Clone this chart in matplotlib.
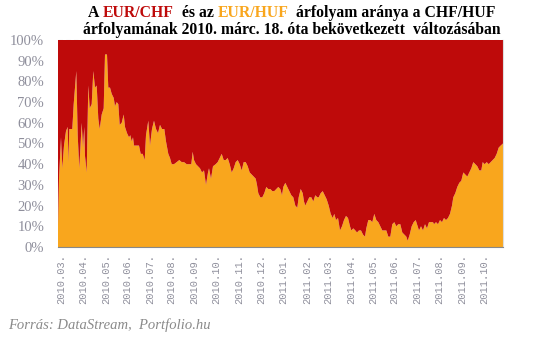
import numpy as np
import matplotlib.pyplot as plt

# trading days since 2010-03-18 and share of EUR/HUF move (%)
days = [0, 1, 3, 4.3, 6, 8, 9.7, 10.3, 11.3, 14.3, 15.7, 18.3, 19.7, 21.3, 23.7, 25, 26.3, 27, 28.7,
        30.3, 31.7, 33.7, 35.3, 37, 38.7, 40.3, 41.7, 43.7, 45.7, 47, 49, 50.3, 52, 53.7, 55.7, 57,
        58.7, 60.3, 61.7, 63.7, 65.7, 67, 69, 71, 72.3, 73.7, 75, 76, 78.7, 81, 82.7, 84.7, 86.7, 88,
        90.3, 92, 94, 96, 98, 100, 102, 104, 106.3, 108, 110.3, 112, 113.7, 116, 118.7, 121.3, 123.7,
        126, 128.7, 131.3, 133.3, 134.7, 136, 138, 140, 142, 144, 146, 148, 150, 151, 153, 155, 157.7,
        159.7, 161.7, 163.7, 165.7, 167.7, 169.7, 171.7, 173.7, 175.7, 177.7, 179.7, 181.7, 183.7,
        185.7, 187.7, 189.7, 191.7, 193.7, 195.7, 197.7, 199, 200.3, 202.3, 204.3, 206.3, 208.3, 210.3,
        212.3, 214.3, 216.3, 218.3, 220.3, 222.3, 224, 225.3, 227.3, 229.3, 231.3, 233.3, 235.3, 237.3,
        239.3, 240.7, 242.7, 244.7, 246, 247.3, 249.3, 251.3, 253.3, 255.3, 257.3, 259.3, 260.7, 262.7,
        264.7, 266.7, 268.7, 270.7, 272.7, 274.7, 276.3, 278, 280, 282, 284, 286, 288, 290, 292, 293.3,
        295.3, 297.3, 299, 301, 303, 305, 307, 308.3, 310.3, 312.3, 314.3, 316.3, 318.3, 320.3, 322.3,
        324.3, 326.3, 328.3, 330.3, 332.3, 334.3, 336.3, 338.3, 340.3, 342.3, 344.3, 346.3, 348.3,
        349.7, 351.7, 353.7, 355.7, 357.7, 359, 361, 363, 365, 367, 369, 371, 373, 375, 376, 378, 380,
        382, 384, 386, 388, 390, 392, 394, 395.3, 397.3, 399.3, 401.3, 403.3, 405.3, 407.3, 409.3,
        411.3, 413.3, 415.3, 417.3, 419.3, 421.3, 423.3, 424.7, 426.7, 428.7, 430.7, 432.7, 434.7,
        436.7, 438.7, 440.7, 442.7, 445]
eurhuf = [10, 33, 53, 38, 49, 56, 58, 41, 57, 57, 69, 85, 54, 38, 60, 48, 58, 44, 36,
          78, 67, 69, 85, 77, 78, 62, 57, 64, 67, 93, 93, 77, 77, 74, 72, 68,
          70, 69, 59, 60, 64, 58, 55, 53, 54, 51, 53, 49, 49, 49, 45, 45, 42, 54,
          61, 49, 57, 61, 57, 55, 59, 57, 57, 51, 45, 43, 40, 40, 41, 42, 41,
          41, 40, 40, 40, 46, 42, 40, 39, 38, 36, 37, 30, 36, 38, 33, 39, 40,
          41, 43, 45, 42, 42, 43, 40, 36, 38, 41, 42, 40, 37,
          41, 41, 39, 36, 35, 34, 33, 30, 26, 24, 24, 26, 29, 28,
          28, 27, 27, 28, 29, 28, 25, 29, 31, 29, 27, 25, 24, 20,
          19, 24, 28, 26, 22, 20, 22, 24, 24, 22, 25, 24, 24, 26,
          27, 25, 23, 20, 16, 14, 16, 13, 14, 8, 10, 13, 15, 14, 10, 8,
          9, 8, 7, 8, 8, 6, 5, 9, 13, 13, 12, 16, 13, 12, 10,
          8, 8, 8, 5, 5, 11, 12, 10, 11, 11, 7, 6, 5,
          3, 6, 10, 12, 13, 11, 8, 10, 8, 11, 9, 12, 12, 12, 11, 12, 11,
          13, 12, 14, 13, 14, 16, 20, 24, 26, 29, 31, 32, 36, 35, 34,
          36, 38, 41, 40, 39, 37, 37, 41, 40, 41, 40, 41, 42,
          43, 45, 48, 49, 50]
eurchf = [100 - v for v in eurhuf]

tick_days = [3, 25, 48, 69, 92, 113, 136, 158, 181, 203, 225, 249, 270, 293, 315, 336, 359, 381, 404, 426]
tick_labels = ["2010.03.", "2010.04.", "2010.05.", "2010.06.", "2010.07.", "2010.08.", "2010.09.",
               "2010.10.", "2010.11.", "2010.12.", "2011.01.", "2011.02.", "2011.03.", "2011.04.",
               "2011.05.", "2011.06.", "2011.07.", "2011.08.", "2011.09.", "2011.10."]

RED = "#be0a0a"
ORANGE = "#f9a61d"
GREY = "#8f8f9c"

fig = plt.figure(figsize=(5.38, 3.42), dpi=100)
ax = fig.add_axes([58 / 538, 1 - 247 / 342, 445 / 538, 207 / 342])

ax.stackplot(days, eurhuf, eurchf, colors=[ORANGE, RED], linewidth=0)
ax.axhline(100, color="#c8c8c8", lw=0.8, ls=(0, (4, 3)), zorder=0, clip_on=False)

ax.set_xlim(0, 445)
ax.set_ylim(0, 100)
ax.set_yticks(range(0, 101, 10))
ax.set_yticklabels([f"{v}%" for v in range(0, 101, 10)], family="Liberation Serif",
                   fontsize=10.5, color=GREY)
ax.set_xticks(tick_days)
ax.set_xticklabels(tick_labels, rotation=90, family="Liberation Mono", fontsize=7.5, color=GREY)
ax.tick_params(axis="y", length=0, pad=10)
ax.tick_params(axis="x", length=0, pad=5)

for s in ["top", "left"]:
    ax.spines[s].set_visible(False)
ax.spines["bottom"].set_color("#888888")
ax.spines["right"].set_color("#dddddd")

# title with coloured words
fig.canvas.draw()
r = fig.canvas.get_renderer()
parts = [("A ", "black"), ("EUR/CHF", RED), ("  és az ", "black"), ("EUR/HUF", ORANGE),
         ("  árfolyam aránya a CHF/HUF", "black")]
arts = []
x = 0
for txt, col in parts:
    t = fig.text(x, 1 - 17 / 342, txt, color=col, family="Liberation Serif", weight="bold",
                 fontsize=11.3, va="baseline", ha="left")
    w = t.get_window_extent(r).width / fig.bbox.width
    arts.append((t, x))
    x += w
shift = 292 / 538 - x / 2
for t, x0 in arts:
    t.set_x(x0 + shift)
fig.text(292 / 538, 1 - 34 / 342, "árfolyamának 2010. márc. 18. óta bekövetkezett  változásában",
         family="Liberation Serif", weight="bold", fontsize=11.3, va="baseline", ha="center")

fig.text(8 / 538, 1 - 329 / 342, "Forrás: DataStream,  Portfolio.hu", family="Liberation Serif",
         style="italic", fontsize=10.5, color="#8a8a8a", va="baseline")

fig.savefig("out.png", dpi=100)
